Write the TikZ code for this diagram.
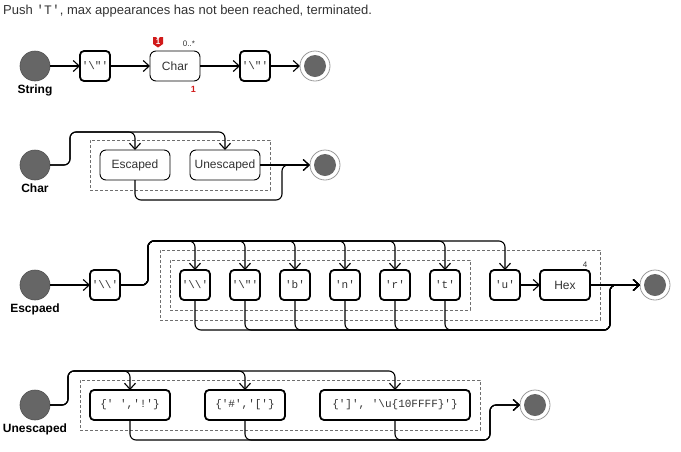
\documentclass[tikz,border=0pt]{standalone}
\usepackage{fontspec}
\setmainfont{Liberation Sans}
\setmonofont{Liberation Mono}
\usepackage{xcolor}
\definecolor{stategray}{HTML}{666666}
\definecolor{ringgray}{HTML}{9A9A9A}
\definecolor{framegray}{HTML}{6E6E6E}
\definecolor{textgray}{HTML}{333333}
\definecolor{flagred}{HTML}{D11A1A}
\usetikzlibrary{arrows.meta, positioning, fit, calc}
\tikzset{
  startst/.style={circle, fill=stategray, draw=stategray!80!black, line width=0.6pt, minimum size=30pt,
                  inner sep=0pt, outer sep=0pt},
  endst/.style  ={circle, draw=ringgray, fill=white, line width=0.8pt, minimum size=30pt, inner sep=0pt, outer sep=0pt,
                  path picture={\fill[stategray] (path picture bounding box.center) circle (11pt);}},
  lit/.style    ={rectangle, rounded corners=4pt, draw=black, line width=1.8pt, fill=white, text=textgray,
                  minimum width=30pt, minimum height=30pt, inner sep=0pt, outer sep=0pt,
                  font=\ttfamily\fontsize{11}{13}\selectfont},
  rulebox/.style={rectangle, rounded corners=6pt, draw=black, line width=0.9pt, fill=white, text=textgray,
                  minimum height=30pt, inner sep=0pt, outer sep=0pt, font=\fontsize{12}{14}\selectfont},
  hexbox/.style ={lit, font=\fontsize{12}{14}\selectfont},
  grp/.style    ={rectangle, draw=framegray, dash pattern=on 3pt off 2pt, line width=0.6pt, inner sep=10pt},
  slbl/.style   ={font=\bfseries\fontsize{12}{14}\selectfont, text=black, inner sep=2pt},
  titletxt/.style={font=\fontsize{13}{15}\selectfont, text=textgray, inner sep=0pt},
  multtxt/.style={font=\fontsize{8}{9}\selectfont, text=textgray, inner sep=0pt},
  cnttxt/.style ={font=\bfseries\fontsize{9}{10}\selectfont, text=flagred, inner sep=0pt},
  flagtxt/.style={font=\bfseries\fontsize{8}{9}\selectfont, text=white, inner sep=0pt},
  conn/.style   ={-{Straight Barb[length=6pt,width=11pt]}, line width=1.1pt, rounded corners=6pt},
}

\begin{document}
\begin{tikzpicture}[x=1pt, y=-1pt, node distance=30pt]
  \useasboundingbox (0,0) rectangle (681,451);
  \node[titletxt, anchor=west] (title) at (3,11) {Push \texttt{'T'}, max appearances has not been reached, terminated.};

  % String
  \node[startst] (s1) at (35,66) {};
  \node[slbl, below=2pt of s1] (l1) {String};
  \node[lit, right=30pt of s1] (q1) {'\textbackslash"'};
  \node[rulebox, minimum width=50pt, right=40pt of q1] (chr) {Char};
  \node[lit, right=40pt of chr] (q2) {'\textbackslash"'};
  \node[endst, right=30pt of q2] (e1) {};
  \fill[flagred] (153,37) -- (156,37) -- (158,39.5) -- (160,37) -- (163,37) -- (163,44) -- (158,47.5) -- (153,44) -- cycle;
  \node[flagtxt] (f1) at (158,41.5) {1};
  \node[multtxt] (m1) at (189,44) {0..*};
  \node[cnttxt] (n1) at (193.5,89) {1};
  \draw[conn] (s1) -- (q1); \draw[conn] (q1) -- (chr); \draw[conn] (chr) -- (q2); \draw[conn] (q2) -- (e1);

  % Char
  \node[startst] (s2) at (35,165) {};
  \node[slbl, below=2pt of s2] (l2) {Char};
  \node[rulebox, minimum width=70pt, right=50pt of s2] (esc) {Escaped};
  \node[rulebox, minimum width=70pt, right=20pt of esc] (unesc) {Unescaped};
  \node[endst, right=50pt of unesc] (e2) {};
  \node[grp, fit=(esc)(unesc)] (g2) {};
  \draw[conn] (s2.east) -- ++(20,0) |- ($(esc.north)+(0,-18)$) -- (esc.north);
  \draw[conn] (s2.east) -- ++(20,0) |- ($(unesc.north)+(0,-18)$) -- (unesc.north);
  \draw[conn] (unesc) -- (e2);
  \draw[conn] (esc.south) |- ($(e2.west)+(-28,35)$) |- (e2.west);

  % Escpaed
  \node[startst] (s3) at (35,285) {};
  \node[slbl, below=2pt of s3] (l3) {Escpaed};
  \node[lit, right=40pt of s3] (q0) {'\textbackslash\textbackslash'};
  \node[lit, right=60pt of q0] (c1) {'\textbackslash\textbackslash'};
  \node[lit, right=20pt of c1] (c2) {'\textbackslash"'};
  \node[lit, right=20pt of c2] (c3) {'b'};
  \node[lit, right=20pt of c3] (c4) {'n'};
  \node[lit, right=20pt of c4] (c5) {'r'};
  \node[lit, right=20pt of c5] (c6) {'t'};
  \node[lit, right=30pt of c6] (cu) {'u'};
  \node[hexbox, minimum width=50pt, right=20pt of cu] (hex) {Hex};
  \node[endst, right=50pt of hex] (e3) {};
  \node[multtxt] (n3) at (585,265) {4};
  \node[grp, fit=(c1)(c6)] (g3) {};
  \coordinate (g3a) at ($(c1.north west)+(-20,-20)$);
  \coordinate (g3b) at ($(hex.south east)+(10,20)$);
  \node[grp, inner sep=0pt, fit=(g3a)(g3b)] (g3o) {};
  \foreach \c in {c1,c2,c3,c4,c5,c6,cu}
    \draw[conn] (q0.east) -- ++(28,0) |- ($(\c.north)+(0,-29)$) -- (\c.north);
  \foreach \c in {c1,c2,c3,c4,c5,c6}
    \draw[conn] (\c.south) |- ($(e3.west)+(-30,45)$) |- (e3.west);
  \draw[conn] (s3) -- (q0); \draw[conn] (cu) -- (hex); \draw[conn] (hex) -- (e3);

  % Unescaped
  \node[startst] (s4) at (35,405) {};
  \node[slbl, below=2pt of s4] (l4) {Unescaped};
  \node[lit, minimum width=80pt, right=40pt of s4] (r1) {\{'\ ','!'\}};
  \node[lit, minimum width=80pt, right=35pt of r1] (r2) {\{'\#','['\}};
  \node[lit, minimum width=150pt, right=35pt of r2] (r3) {\{']',\ '\textbackslash u\{10FFFF\}'\}};
  \node[endst, right=50pt of r3] (e4) {};
  \node[grp, fit=(r1)(r3)] (g4) {};
  \foreach \r in {r1,r2,r3}
    \draw[conn] (s4.east) -- ++(18,0) |- ($(\r.north)+(0,-19)$) -- (\r.north);
  \foreach \r in {r1,r2,r3}
    \draw[conn] (\r.south) |- ($(e4.west)+(-30,35)$) |- (e4.west);
\end{tikzpicture}
\end{document}
